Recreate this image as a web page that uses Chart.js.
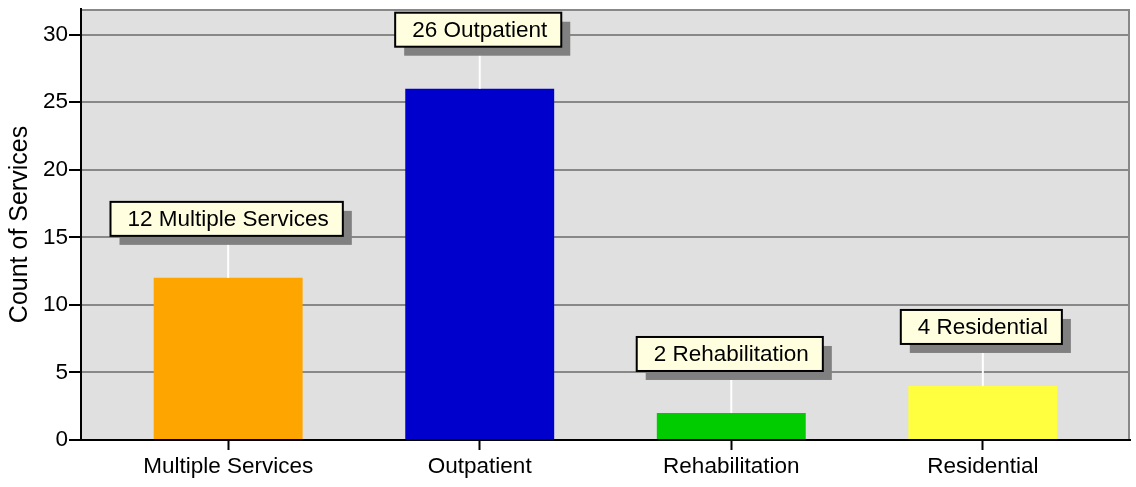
<!DOCTYPE html>
<html>
<head>
<meta charset="utf-8">
<script src="https://cdn.jsdelivr.net/npm/chart.js@4/dist/chart.umd.min.js"></script>
<style>
	html, body { margin: 0; padding: 0; background: #fff; }
	#wrap { width: 1136px; height: 487px; }
</style>
</head>
<body>
<div id="wrap"><canvas id="myChart" width="1136" height="487"></canvas></div>
<script>
"use strict";

/********/
/* data */
/********/
const categories = ["Multiple Services", "Outpatient", "Rehabilitation", "Residential"];
const counts = [12, 26, 2, 4];
const barColors = ["#FFA500", "#0000CC", "#00CC00", "#FFFF40"];
const yTicks = [0, 5, 10, 15, 20, 25, 30];

const FONT = "'Liberation Sans', Arial, sans-serif";

/***********/
/* plugins */
/***********/
// grey plot background with a grey frame on the top & right
const plotBackground = {
	id: "plotBackground",
	beforeDraw(chart) {
		const { ctx, chartArea: a } = chart;
		ctx.save();
		ctx.fillStyle = "#E0E0E0";
		ctx.fillRect(a.left, a.top, a.right - a.left, a.bottom - a.top);
		ctx.strokeStyle = "#888888";
		ctx.lineWidth = 2;
		ctx.beginPath();
		ctx.moveTo(a.left, a.top + 1);
		ctx.lineTo(a.right - 1, a.top + 1);
		ctx.lineTo(a.right - 1, a.bottom);
		ctx.stroke();
		ctx.restore();
	}
};

// callout boxes with a drop shadow & a white leader line
const callouts = {
	id: "callouts",
	afterDatasetsDraw(chart) {
		const ctx = chart.ctx;
		const meta = chart.getDatasetMeta(0);
		ctx.save();
		ctx.font = "22.5px " + FONT;
		ctx.textBaseline = "middle";
		meta.data.forEach((bar, i) => {
			const text = counts[i] + " " + categories[i];
			const tw = ctx.measureText(text).width;
			const boxW = tw + 31;
			const boxH = 34;
			const left = bar.x - tw / 2 - 17;
			const bottom = bar.y - 42;
			const top = bottom - boxH;
			// leader line
			ctx.strokeStyle = "#FFFFFF";
			ctx.lineWidth = 2;
			ctx.beginPath();
			ctx.moveTo(bar.x, bar.y);
			ctx.lineTo(bar.x, bottom);
			ctx.stroke();
			// shadow
			ctx.fillStyle = "#808080";
			ctx.fillRect(left + 9, top + 9, boxW, boxH);
			// box
			ctx.fillStyle = "#FFFFE0";
			ctx.fillRect(left, top, boxW, boxH);
			ctx.strokeStyle = "#000000";
			ctx.strokeRect(left, top, boxW, boxH);
			// text
			ctx.fillStyle = "#000000";
			ctx.fillText(text, left + 17, top + boxH / 2 + 1);
		});
		ctx.restore();
	}
};

/********/
/* MAIN */
/********/
(function main() {
	const ctx = document.getElementById("myChart").getContext("2d");
	new Chart(ctx, {
		type: "bar",
		data: {
			datasets: [{
				data: counts.map((c, i) => ({ x: i, y: c })),
				backgroundColor: barColors,
				borderWidth: 0,
				categoryPercentage: 1,
				barPercentage: 0.592
			}]
		},
		options: {
			responsive: false,
			animation: false,
			layout: { padding: { top: 9, right: 6, left: 0, bottom: 0 } },
			plugins: {
				legend: { display: false },
				tooltip: { enabled: false }
			},
			scales: {
				x: {
					type: "linear",
					offset: false,
					min: -0.585,
					max: 3.585,
					afterBuildTicks: scale => {
						scale.ticks = categories.map((c, i) => ({ value: i }));
					},
					afterFit: scale => { scale.height = 47; },
					grid: {
						offset: false,
						drawOnChartArea: false,
						tickLength: 10,
						tickColor: "#000",
						tickWidth: 2
					},
					border: { color: "#000", width: 2 },
					ticks: {
						autoSkip: false,
						maxRotation: 0,
						padding: 3,
						color: "#000",
						font: { size: 22.5, family: FONT },
						callback: v => categories[v]
					}
				},
				y: {
					min: 0,
					max: 31.9,
					afterBuildTicks: scale => {
						scale.ticks = yTicks.map(v => ({ value: v }));
					},
					afterFit: scale => {
						scale.width = 81;
						scale.paddingTop = 0;
						scale.paddingBottom = 0;
					},
					grid: {
						color: "#888888",
						lineWidth: 2,
						tickLength: 12,
						tickColor: "#000",
						tickWidth: 2
					},
					border: { color: "#000", width: 2 },
					ticks: {
						padding: 1,
						color: "#000",
						font: { size: 22.5, family: FONT }
					},
					title: {
						display: true,
						text: "Count of Services",
						color: "#000",
						font: { size: 25, family: FONT },
						padding: { top: 5, bottom: 0 }
					}
				}
			}
		},
		plugins: [plotBackground, callouts]
	});
})();
</script>
</body>
</html>
